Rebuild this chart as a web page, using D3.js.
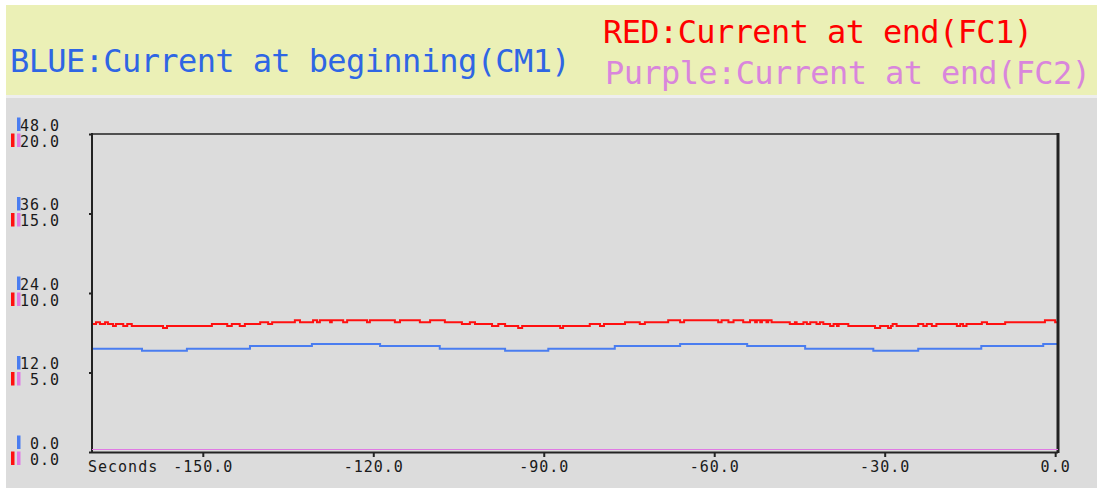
<!DOCTYPE html>
<html>
<head>
<meta charset="utf-8">
<script src="https://cdn.jsdelivr.net/npm/d3@7"></script>
<style>
  html, body { margin: 0; padding: 0; background: #ffffff; }
  svg { display: block; }
  .mono { font-family: "DejaVu Sans Mono", "Liberation Mono", monospace; }
</style>
</head>
<body>
<svg id="chart" width="1097" height="488"></svg>
<script>
// ---- Data -------------------------------------------------------------
// Blue: current at beginning (CM1), step changes (time in seconds, amps)
const blueTimes  = [-169.5, -160.7, -152.8, -141.7, -130.8, -118.8, -108.3, -96.8, -89.2, -77.5, -66.0, -54.2, -44.0, -32.0, -24.1, -13.0, -2.1, 0.5];
const blueValues = [15.6, 15.3, 15.6, 16.0, 16.3, 16.0, 15.6, 15.3, 15.6, 16.0, 16.3, 16.0, 15.6, 15.3, 15.6, 16.0, 16.3, 16.3];

// Red: current at end (FC1), step changes
const redTimes = [
  -169.5, -168.8, -168.1, -167.2, -166.7, -165.8, -165.3, -164.0, -163.3, -162.5,
  -157.0, -156.3, -148.4, -145.7, -144.9, -143.5, -142.6, -139.9, -138.5, -137.8,
  -133.8, -132.9, -130.6, -129.9, -129.4, -127.6, -127.3, -125.3, -124.6, -121.1,
  -120.6, -116.2, -115.3, -111.8, -110.0, -107.4, -104.4, -103.0, -102.1, -99.1,
  -98.0, -96.8, -94.5, -93.8, -87.1, -86.6, -81.9, -80.1, -79.4, -75.7,
  -73.1, -72.2, -68.1, -66.0, -65.3, -59.3, -58.7, -57.5, -56.6, -54.9,
  -53.7, -52.8, -52.5, -51.9, -51.6, -50.8, -50.5, -49.9, -46.7, -45.8,
  -45.5, -44.3, -43.7, -43.1, -42.0, -41.4, -40.8, -39.6, -39.0, -38.4,
  -38.1, -36.4, -31.7, -30.8, -29.4, -28.9, -28.6, -27.9, -24.1, -23.2,
  -22.6, -21.7, -20.9, -17.3, -16.7, -16.2, -15.6, -12.9, -12.0, -8.8,
  -1.8, 0.0, 0.5
];
const redValues = [
  8.05, 8.16, 8.05, 8.16, 8.05, 7.93, 8.05, 7.93, 8.05, 7.93,
  7.80, 7.93, 8.05, 7.93, 8.05, 7.93, 8.05, 8.16, 8.05, 8.16,
  8.28, 8.16, 8.28, 8.16, 8.28, 8.16, 8.28, 8.16, 8.28, 8.16,
  8.28, 8.16, 8.28, 8.16, 8.28, 8.16, 8.05, 8.16, 8.05, 7.93,
  8.05, 7.93, 7.80, 7.93, 7.80, 7.93, 8.05, 7.93, 8.05, 8.16,
  8.05, 8.16, 8.28, 8.16, 8.28, 8.16, 8.28, 8.16, 8.28, 8.16,
  8.28, 8.16, 8.28, 8.16, 8.28, 8.16, 8.28, 8.16, 8.05, 8.16,
  8.05, 8.16, 8.05, 8.16, 8.05, 8.16, 8.05, 7.93, 8.05, 7.93,
  8.05, 7.93, 7.80, 7.93, 7.80, 7.93, 8.05, 7.93, 8.05, 7.93,
  8.05, 7.93, 8.05, 7.93, 8.05, 7.93, 8.05, 8.16, 8.05, 8.16,
  8.28, 8.16, 8.16
];

// Purple: current at end (FC2)
const purpleTimes  = [-169.5, 0.5];
const purpleValues = [0, 0];

// Axis ticks
const xTicks = [-150, -120, -90, -60, -30, 0];
const blueTicks = [0, 12, 24, 36, 48];
const redTicks = [0, 5, 10, 15, 20];

// Legend lines
const titles = [
  { text: "BLUE:Current at beginning(CM1)", color: "#2f66e4", x: 10,  y: 72 },
  { text: "RED:Current at end(FC1)",        color: "#ff0000", x: 603, y: 43 },
  { text: "Purple:Current at end(FC2)",     color: "#d986dc", x: 605, y: 84 }
];

// ---- Layout -----------------------------------------------------------
const W = 1097, H = 488;
const plot = { left: 92, right: 1058, top: 134, bottom: 452 };
const COLORS = { blue: "#4a7df0", red: "#ff1010", purple: "#e07ae4", axis: "#222222" };

const svg = d3.select("#chart");

// Panels
svg.append("rect").attr("x", 6).attr("y", 5).attr("width", W - 6).attr("height", 90).attr("fill", "#ebf0b6");
svg.append("rect").attr("x", 6).attr("y", 95).attr("width", W - 6).attr("height", 3).attr("fill", "#eeeeee");
svg.append("rect").attr("x", 6).attr("y", 98).attr("width", W - 6).attr("height", H - 98).attr("fill", "#dcdcdc");

// Titles
svg.selectAll("text.title").data(titles).enter().append("text")
  .attr("class", "title mono")
  .attr("x", d => d.x).attr("y", d => d.y)
  .attr("fill", d => d.color)
  .style("font-size", "32px")
  .style("letter-spacing", "-0.6px")
  .text(d => d.text);

// Scales
const x = d3.scaleLinear().domain([-169.5, 0.5]).range([plot.left, plot.right]);
const yBlue = d3.scaleLinear().domain([0, 48]).range([plot.bottom, plot.top]);
const yRed  = d3.scaleLinear().domain([0, 20]).range([plot.bottom, plot.top]);

// X axis
const xAxis = d3.axisBottom(x).tickValues(xTicks).tickSize(5).tickPadding(4)
  .tickFormat(d => d.toFixed(1));
const gx = svg.append("g").attr("transform", `translate(0,${plot.bottom})`).call(xAxis);
gx.select(".domain").remove();
gx.selectAll(".tick line").attr("stroke", COLORS.axis).attr("stroke-width", 2);
gx.selectAll(".tick text").attr("class", "mono").attr("fill", "#1a1a1a")
  .style("font-size", "15px").style("letter-spacing", "1px");
svg.append("text").attr("class", "mono")
  .attr("x", 88).attr("y", plot.bottom + 20)
  .attr("fill", "#1a1a1a").style("font-size", "15px").style("letter-spacing", "1px")
  .text("Seconds");

// Left axes: blue scale above each tick, red/purple scale below
const labelEnd = 60;
const gyB = svg.append("g").attr("transform", `translate(${plot.left},0)`)
  .call(d3.axisLeft(yBlue).tickValues(blueTicks).tickSize(3).tickPadding(plot.left - labelEnd - 3)
    .tickFormat(d => d.toFixed(1)));
gyB.select(".domain").remove();
gyB.selectAll(".tick line").attr("stroke", COLORS.axis).attr("stroke-width", 2);
gyB.selectAll(".tick text").attr("class", "mono").attr("dy", null).attr("y", -4)
  .attr("fill", "#1a1a1a").style("font-size", "15px").style("letter-spacing", "1px");
gyB.selectAll(".tick").append("rect")
  .attr("x", 17 - plot.left).attr("y", -17).attr("width", 3.5).attr("height", 13.5)
  .attr("fill", COLORS.blue);

const gyR = svg.append("g").attr("transform", `translate(${plot.left},0)`)
  .call(d3.axisLeft(yRed).tickValues(redTicks).tickSize(0).tickPadding(plot.left - labelEnd)
    .tickFormat(d => d.toFixed(1)));
gyR.select(".domain").remove();
gyR.selectAll(".tick text").attr("class", "mono").attr("dy", null).attr("y", 12)
  .attr("fill", "#1a1a1a").style("font-size", "15px").style("letter-spacing", "1px");
gyR.selectAll(".tick").append("rect")
  .attr("x", 11 - plot.left).attr("y", -1).attr("width", 3.5).attr("height", 13.5)
  .attr("fill", COLORS.red);
gyR.selectAll(".tick").append("rect")
  .attr("x", 17 - plot.left).attr("y", -1).attr("width", 3.5).attr("height", 13.5)
  .attr("fill", COLORS.purple);

// Series
const zip = (ts, vs) => ts.map((t, i) => ({ t, v: vs[i] }));
const lineBlue = d3.line().x(d => x(d.t)).y(d => yBlue(d.v)).curve(d3.curveStepAfter);
const lineRed  = d3.line().x(d => x(d.t)).y(d => yRed(d.v)).curve(d3.curveStepAfter);

const plotClip = svg.append("clipPath").attr("id", "plotClip").append("rect")
  .attr("x", plot.left).attr("y", plot.top - 2)
  .attr("width", plot.right - plot.left).attr("height", plot.bottom - plot.top + 2);

const series = svg.append("g").attr("clip-path", "url(#plotClip)");
series.append("path").datum(zip(blueTimes, blueValues))
  .attr("d", lineBlue).attr("fill", "none").attr("stroke", COLORS.blue).attr("stroke-width", 2);
series.append("path").datum(zip(redTimes, redValues))
  .attr("d", lineRed).attr("fill", "none").attr("stroke", COLORS.red).attr("stroke-width", 2);

// Frame
svg.append("line").attr("x1", plot.left).attr("x2", plot.right).attr("y1", plot.top).attr("y2", plot.top)
  .attr("stroke", COLORS.axis).attr("stroke-width", 1.5);
svg.append("line").attr("x1", plot.left).attr("x2", plot.left).attr("y1", plot.top - 1).attr("y2", plot.bottom + 1)
  .attr("stroke", COLORS.axis).attr("stroke-width", 2);
svg.append("line").attr("x1", plot.right).attr("x2", plot.right).attr("y1", plot.top - 1).attr("y2", plot.bottom + 1)
  .attr("stroke", COLORS.axis).attr("stroke-width", 3);
svg.append("line").attr("x1", plot.left).attr("x2", plot.right).attr("y1", plot.bottom + 0.5).attr("y2", plot.bottom + 0.5)
  .attr("stroke", COLORS.axis).attr("stroke-width", 2);

// Purple series sits on the zero line, just above the bottom border
svg.append("path").datum(zip(purpleTimes, purpleValues))
  .attr("transform", "translate(0,-2)")
  .attr("d", lineRed).attr("fill", "none").attr("stroke", COLORS.purple).attr("stroke-width", 2)
  .attr("clip-path", "url(#plotClip)");
</script>
</body>
</html>
